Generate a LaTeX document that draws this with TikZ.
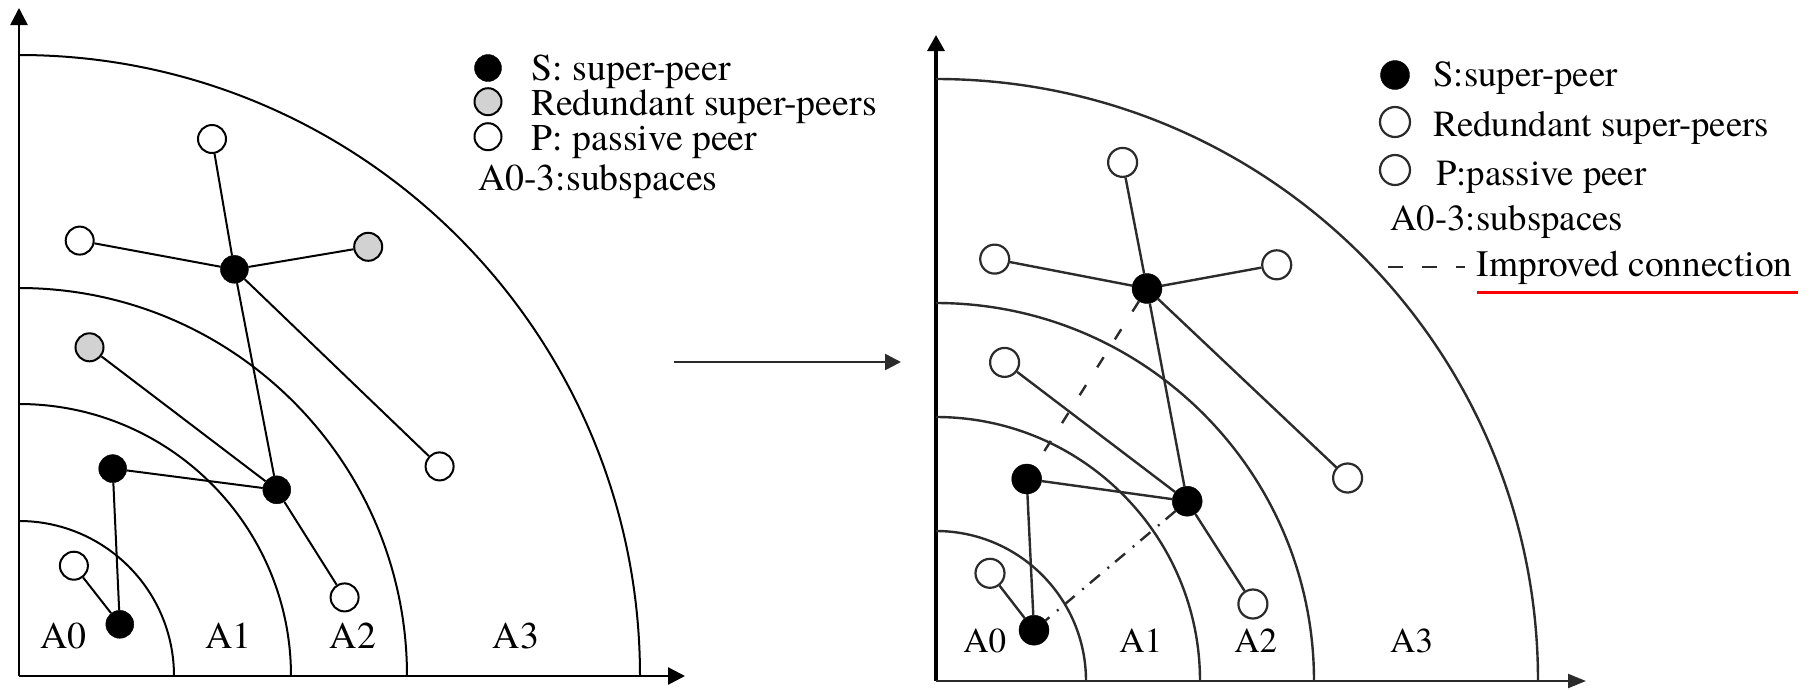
\documentclass[tikz,border=0pt]{standalone}
\usepackage{fontspec}
\setmainfont{texgyretermes}[Extension=.otf, UprightFont=*-regular, BoldFont=*-bold, ItalicFont=*-italic, BoldItalicFont=*-bolditalic]
\usetikzlibrary{arrows.meta}
\definecolor{rgray}{HTML}{2B2B2B}
\definecolor{redpeer}{HTML}{D2D2D2}
\tikzset{
  ln/.style={line width=2pt, black},
  rln/.style={line width=2.4pt, rgray},
  axisarrow/.style={line width=2.6pt, -{Triangle[length=17pt,width=17pt]}},
  superpeer/.style={circle, draw=black, fill=black, minimum size=28pt, inner sep=0pt},
  passivepeer/.style={circle, draw=black, fill=white, line width=2pt, minimum size=28pt, inner sep=0pt},
  redundpeer/.style={circle, draw=black, fill=redpeer, line width=2pt, minimum size=28pt, inner sep=0pt},
  rpassive/.style={passivepeer, draw=rgray, line width=2.2pt, minimum size=29pt},
  lfont/.style={font=\fontsize{37.8pt}{40pt}\selectfont, inner sep=0pt, anchor=base west},
  rfont/.style={font=\fontsize{36.8pt}{40pt}\selectfont, inner sep=0pt, anchor=base west, text=black},
  alab/.style={font=\fontsize{37.8pt}{40pt}\selectfont, inner sep=0pt, anchor=base},
  ralab/.style={font=\fontsize{35pt}{40pt}\selectfont, inner sep=0pt, anchor=base, text=black},
}
\begin{document}
\begin{tikzpicture}[x=1pt,y=-1pt]
\useasboundingbox (0,0) rectangle (1810,689);

% ---------------- Left panel ----------------
\coordinate (LO) at (19,676);
\coordinate (LY) at (19,8);
\coordinate (LX) at (685,676);
\draw[axisarrow] (LO) -- (LY);
\draw[axisarrow] (LO) -- (LX);
\foreach \r in {155,272,388,621}
  \draw[ln] ([yshift=\r pt]LO) arc[start angle=-90, end angle=0, radius=\r];

\node[passivepeer] (Lpt) at (212,139) {};
\node[passivepeer] (Lpl) at (79.7,240.6) {};
\node[superpeer]   (Ls1) at (234.4,269.3) {};
\node[redundpeer]  (Lrr) at (368.2,246.8) {};
\node[redundpeer]  (Lrl) at (89.5,347.3) {};
\node[passivepeer] (Lpr) at (439.6,466.4) {};
\node[superpeer]   (Ls2) at (112.7,468.6) {};
\node[superpeer]   (Ls3) at (276.8,489.8) {};
\node[passivepeer] (Lpb) at (344.6,597.4) {};
\node[passivepeer] (Lpa) at (73.9,565.7) {};
\node[superpeer]   (Ls0) at (119.8,624.3) {};

\draw[ln] (Lpt) -- (Ls1);
\draw[ln] (Lpl) -- (Ls1);
\draw[ln] (Ls1) -- (Lrr);
\draw[ln] (Ls1) -- (Ls3);
\draw[ln] (Ls1) -- (Lpr);
\draw[ln] (Lrl) -- (Ls3);
\draw[ln] (Ls2) -- (Ls3);
\draw[ln] (Ls3) -- (Lpb);
\draw[ln] (Ls2) -- (Ls0);
\draw[ln] (Lpa) -- (Ls0);

\node[alab] (LA0) at (63.5,648) {A0};
\node[alab] (LA1) at (228.6,648) {A1};
\node[alab] (LA2) at (353,648) {A2};
\node[alab] (LA3) at (516,648) {A3};

% left legend
\node[superpeer, minimum size=27pt] (Lk1) at (488,68) {};
\node[redundpeer, minimum size=27pt] (Lk2) at (488,101.7) {};
\node[passivepeer, minimum size=27pt] (Lk3) at (488,136.7) {};
\node[lfont] (Lt1) at (531.7,80) {S: super-peer};
\node[lfont] (Lt2) at (531.7,115) {Redundant super-peers};
\node[lfont] (Lt3) at (531.7,150) {P: passive peer};
\node[lfont] (Lt4) at (478,190) {A0-3:subspaces};

% ---------------- middle arrow ----------------
\coordinate (MA) at (674,362);
\coordinate (MB) at (901,362);
\draw[line width=2.5pt, rgray, -{Triangle[length=16pt,width=16pt]}] (MA) -- (MB);

% ---------------- Right panel ----------------
\coordinate (RO) at (936,681);
\coordinate (RY) at (936,35);
\coordinate (RX) at (1586,681);
\draw[line width=3.2pt, black, -{Triangle[length=16pt,width=17pt]}] (RO) -- (RY);
\draw[line width=2.2pt, rgray, -{Triangle[length=18pt,width=14pt]}] (RO) -- (RX);
\foreach \r in {150,264,378,602}
  \draw[rln] ([yshift=\r pt]RO) arc[start angle=-90, end angle=0, radius=\r];

\node[rpassive]  (Rpt) at (1122.6,162.4) {};
\node[rpassive]  (Rpl) at (994.7,259.1) {};
\node[superpeer, minimum size=30pt] (Rs1) at (1147,288.5) {};
\node[rpassive]  (Rrr) at (1276.7,264.8) {};
\node[rpassive]  (Rrl) at (1004.6,362.4) {};
\node[rpassive]  (Rpr) at (1347.6,478) {};
\node[superpeer, minimum size=30pt] (Rs2) at (1026.7,479) {};
\node[superpeer, minimum size=30pt] (Rs3) at (1187.2,501.2) {};
\node[rpassive]  (Rpb) at (1252.9,604) {};
\node[rpassive]  (Rpa) at (990,573.3) {};
\node[superpeer, minimum size=30pt] (Rs0) at (1034,630.2) {};

\draw[rln] (Rpt) -- (Rs1);
\draw[rln] (Rpl) -- (Rs1);
\draw[rln] (Rs1) -- (Rrr);
\draw[rln] (Rs1) -- (Rs3);
\draw[rln] (Rs1) -- (Rpr);
\draw[rln] (Rrl) -- (Rs3);
\draw[rln] (Rs2) -- (Rs3);
\draw[rln] (Rs3) -- (Rpb);
\draw[rln] (Rs2) -- (Rs0);
\draw[rln] (Rpa) -- (Rs0);
\draw[rln, dash pattern=on 12pt off 21pt] (Rs1) -- (Rs2);
\draw[rln, dash pattern=on 13pt off 8pt on 2pt off 10pt] (Rs3) -- (Rs0);

\node[ralab] (RA0) at (984.8,652) {A0};
\node[ralab] (RA1) at (1140.7,652) {A1};
\node[ralab] (RA2) at (1255.8,652) {A2};
\node[ralab] (RA3) at (1411.6,652) {A3};

% right legend
\node[superpeer, minimum size=29pt] (Rk1) at (1395,75) {};
\node[rpassive, minimum size=30pt] (Rk2) at (1395,122) {};
\node[rpassive, minimum size=30pt] (Rk3) at (1395,170) {};
\node[rfont] (Rt1) at (1433.3,86.7) {S:super-peer};
\node[rfont] (Rt2) at (1433.3,136.7) {Redundant super-peers};
\node[rfont] (Rt3) at (1436,185) {P:passive peer};
\node[rfont] (Rt4) at (1390,230) {A0-3:subspaces};
\node[rfont, font=\fontsize{37.3pt}{40pt}\selectfont] (Rt5) at (1476.7,276.7) {Improved connection};
\coordinate (DA) at (1388,266.7);
\coordinate (DB) at (1465,266.7);
\draw[line width=2pt, rgray, dash pattern=on 15pt off 19pt] (DA) -- (DB);
\coordinate (UA) at (1477,292.3);
\coordinate (UB) at (1798,292.3);
\draw[line width=3pt, red] (UA) -- (UB);
\end{tikzpicture}
\end{document}
